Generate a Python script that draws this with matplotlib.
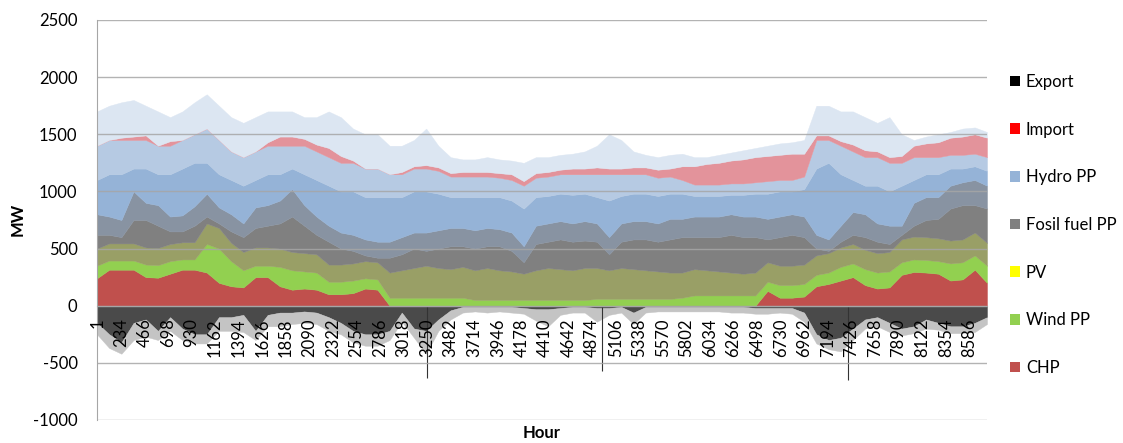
import numpy as np
import matplotlib
matplotlib.use('Agg')
import matplotlib.pyplot as plt
from matplotlib.patches import Patch

plt.rcParams['font.family'] = ['Lato', 'DejaVu Sans']
plt.rcParams['axes.unicode_minus'] = False

# sample hours (every 120 h over the year)
hours = np.arange(0, 8761, 120)

# MW (stacked from the bottom)
chp = [240, 315, 315, 315, 250, 245, 280, 315, 315, 290, 200, 170, 160, 250, 250, 170, 140, 150, 140, 100, 100, 110, 150, 140,
       0, 0, 0, 0, 0, 0, 0, 0, 0, 0, 0, 0, 0, 0, 0, 0, 0, 0, 0, 0, 0, 0, 0, 0, 0, 0, 0, 0, 0, 0, 0,
       130, 70, 70, 80, 170, 190, 220, 250, 180, 150, 160, 270, 295, 290, 280, 220, 230, 315, 200]
wind = [110, 80, 80, 80, 110, 110, 110, 90, 90, 250, 300, 220, 150, 100, 100, 170, 170, 150, 150, 110, 110, 110, 90, 90,
        70, 70, 70, 70, 70, 70, 70, 50, 50, 50, 50, 50, 50, 50, 50, 50, 50, 60, 60, 60, 60, 60, 60, 60, 70, 90, 90, 90, 90, 90, 90,
        80, 110, 110, 110, 100, 100, 120, 120, 140, 140, 140, 110, 110, 110, 110, 150, 150, 125, 150]
pv = [150, 150, 150, 150, 150, 150, 150, 150, 150, 180, 180, 160, 160, 160, 160, 160, 160, 160, 160, 150, 150, 150, 150, 150,
      220, 240, 260, 280, 260, 250, 270, 260, 280, 260, 250, 230, 260, 280, 270, 260, 280, 270, 250, 270, 260, 250, 240, 230, 220, 230, 220, 210, 200, 190, 200,
      170, 170, 170, 170, 170, 170, 170, 170, 170, 170, 170, 200, 200, 200, 200, 200, 200, 200, 200]
fossil = [120, 75, 55, 205, 240, 195, 110, 95, 145, 60, 40, 100, 130, 170, 190, 220, 310, 240, 170, 200, 140, 110, 50, 40,
          130, 140, 170, 130, 170, 200, 180, 190, 190, 210, 180, 100, 230, 230, 260, 250, 240, 230, 140, 230, 260, 270, 260, 290, 310, 280, 290, 300, 330, 320, 310,
          200, 250, 270, 240, 60, 20, 50, 80, 110, 100, 70, 40, 95, 150, 170, 280, 300, 240, 300]
fossil_peak = [180, 160, 150, 250, 150, 180, 130, 140, 170, 200, 140, 150, 120, 180, 180, 200, 240, 180, 160, 140, 140, 140, 140, 140,
               140, 150, 140, 160, 160, 160, 160, 160, 160, 150, 160, 140, 160, 160, 160, 160, 170, 160, 150, 160, 160, 160, 160, 180, 160, 180, 180, 180, 180, 180, 180,
               180, 180, 180, 180, 120, 100, 140, 200, 200, 160, 160, 80, 200, 200, 190, 200, 200, 220, 200]
hydro = [300, 370, 400, 200, 300, 270, 370, 410, 380, 270, 290, 300, 330, 240, 270, 230, 180, 270, 320, 350, 360, 380, 370, 390,
         390, 350, 360, 360, 320, 270, 270, 290, 270, 280, 280, 330, 250, 240, 240, 250, 240, 230, 320, 240, 240, 240, 240, 220, 220, 180, 180, 180, 170, 190, 200,
         220, 220, 200, 240, 580, 670, 450, 280, 250, 330, 300, 350, 200, 200, 200, 150, 120, 120, 130]
hydro_peak = [300, 300, 300, 250, 250, 250, 250, 250, 250, 300, 300, 250, 250, 250, 250, 250, 200, 250, 250, 250, 250, 250, 250, 250,
              200, 200, 200, 200, 200, 180, 180, 180, 180, 170, 180, 200, 170, 170, 170, 180, 170, 200, 230, 190, 170, 170, 160, 150, 120, 100, 100, 100, 100, 100, 100,
              110, 100, 100, 110, 250, 200, 250, 250, 250, 250, 250, 200, 200, 150, 150, 120, 120, 110, 120]
imports = [0, 0, 20, 30, 40, 0, 40, 0, 0, 0, 0, 0, 0, 0, 30, 80, 80, 60, 60, 80, 60, 20, 0, 0,
           0, 20, 20, 30, 30, 30, 40, 40, 40, 40, 50, 40, 40, 40, 40, 50, 50, 60, 50, 50, 60, 60, 70, 70, 120, 160, 180, 190, 200, 210, 220,
           220, 220, 230, 200, 40, 40, 40, 60, 60, 50, 50, 60, 100, 120, 130, 150, 160, 170, 170]
top_spikes = [300, 300, 310, 320, 260, 300, 210, 250, 280, 300, 300, 300, 300, 300, 270, 220, 220, 190, 240, 320, 340, 280, 300, 300,
              250, 230, 230, 320, 190, 140, 110, 110, 130, 120, 120, 160, 140, 130, 130, 130, 150, 190, 300, 250, 140, 110, 110, 120, 110, 80, 60, 70, 70, 80, 80,
              90, 100, 100, 120, 260, 260, 260, 290, 290, 250, 350, 190, 50, 60, 70, 50, 70, 60, 50]
export = [150, 250, 320, 150, 120, 220, 100, 200, 250, 250, 100, 100, 80, 220, 80, 60, 60, 50, 60, 100, 150, 220, 250, 250,
          220, 60, 200, 220, 120, 40, 10, 10, 10, 10, 10, 20, 30, 30, 20, 10, 10, 20, 20, 10, 60, 10, 10, 10, 10, 10, 10, 10, 10, 10, 20,
          20, 20, 20, 60, 250, 300, 280, 200, 120, 100, 150, 200, 180, 120, 150, 180, 180, 150, 100]
export_peak = [100, 120, 100, 150, 150, 80, 120, 100, 80, 80, 120, 120, 150, 80, 100, 120, 100, 100, 100, 120, 100, 100, 100, 100,
               80, 80, 80, 200, 100, 80, 50, 40, 50, 40, 50, 50, 100, 150, 60, 50, 50, 120, 60, 50, 100, 50, 40, 40, 40, 40, 40, 40, 50, 50, 50,
               50, 40, 50, 80, 80, 80, 120, 100, 80, 80, 80, 60, 60, 80, 60, 60, 60, 80, 60]
# single deep export hours
spike_hours = [3250, 4970, 7390]
spike_mw = [-630, -570, -650]

tick_hours = [1, 234, 466, 698, 930, 1162, 1394, 1626, 1858, 2090, 2322, 2554, 2786, 3018, 3250, 3482, 3714, 3946, 4178,
              4410, 4642, 4874, 5106, 5338, 5570, 5802, 6034, 6266, 6498, 6730, 6962, 7194, 7426, 7658, 7890, 8122, 8354, 8586]

names = ['Export', 'Import', 'Hydro PP', 'Fosil fuel PP', 'PV', 'Wind PP', 'CHP']
colors = ['#000000', '#FF0000', '#95B3D7', '#808080', '#FFFF00', '#92D050', '#C0504D']

fig = plt.figure(figsize=(11.23, 4.43), dpi=100)
ax = fig.add_axes([97/1123, 23/443, 890/1123, 400/443])

# band colours: solid series colours, spike zones mixed with what lies behind them
layers = [chp, wind, pv, fossil, fossil_peak, hydro, hydro_peak, imports, top_spikes]
band_cols = ['#C0504D', '#92D050', '#999F66', '#808080', '#8893A2', '#95B3D7', '#B6CAE3', '#E3939B', '#DCE6F2']
base = np.zeros(len(hours))
for vals, col in zip(layers, band_cols):
    top = base + np.array(vals)
    ax.fill_between(hours, base, top, facecolor=col, edgecolor=col, lw=0.3)
    base = top

exp_lo = -np.array(export)
ax.fill_between(hours, 0, exp_lo, facecolor='#4A4A4A', edgecolor='#4A4A4A', lw=0.3)
ax.fill_between(hours, exp_lo, exp_lo - np.array(export_peak), facecolor='#C4C4C4', edgecolor='#C4C4C4', lw=0.3)
ax.vlines(spike_hours, 0, spike_mw, colors='#333333', lw=0.8)

ax.set_xlim(0, 8760)
ax.set_ylim(-1000, 2500)
ax.set_yticks(range(-1000, 2501, 500))
ax.set_axisbelow(False)
ax.yaxis.grid(True, color='#A6A6A6', lw=1.0, alpha=0.85)
for s in ['top', 'right']:
    ax.spines[s].set_visible(False)
ax.spines['left'].set_color('#A6A6A6')
ax.spines['bottom'].set_color('#A6A6A6')
ax.spines['bottom'].set_position(('data', 0))
ax.set_xticks(tick_hours)
ax.set_xticklabels([str(t) for t in tick_hours], rotation=90)
ax.tick_params(axis='x', length=0, pad=9, labelsize=12)
ax.tick_params(axis='y', length=0, pad=14, labelsize=12)

fig.text(18/1123, 1 - 219/443, 'MW', rotation=90, ha='center', va='center', fontsize=12, fontweight='bold')
fig.text(542/1123, 10/443, 'Hour', ha='center', va='center', fontsize=12, fontweight='bold')

handles = [Patch(facecolor=c, edgecolor='none') for c in colors]
fig.legend(handles, names, loc='upper left', bbox_to_anchor=(1010/1123, 1 - 74/443), frameon=False,
           fontsize=12, handlelength=0.6, handleheight=0.6, handletextpad=0.35, labelspacing=1.9,
           borderpad=0, borderaxespad=0)

fig.savefig('out.png', dpi=100)
